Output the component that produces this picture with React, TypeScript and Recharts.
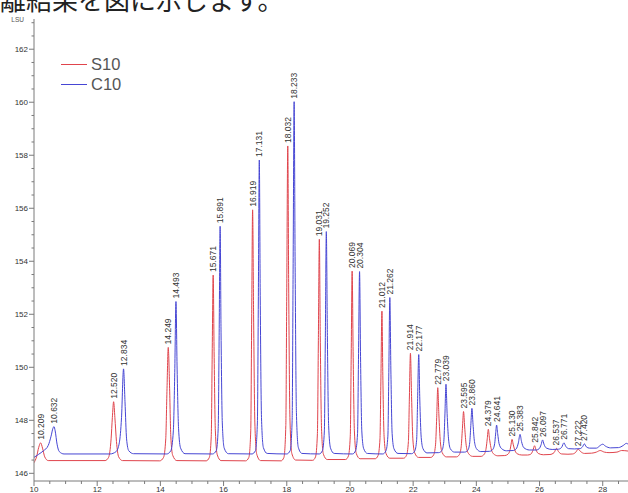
import { ComposedChart, Line, Scatter, XAxis, YAxis, Legend } from "recharts";

// retention time (min) / signal (LSU)
const s10Trace: [number, number][] = [
  [10.0, 146.4], [10.08, 146.62], [10.15, 146.98], [10.209, 147.15], [10.27, 146.95], [10.34, 146.62], [10.45, 146.48],
  [12.25, 146.48], [12.36, 146.6], [12.44, 147.3], [12.48, 148.1], [12.52, 148.7], [12.56, 148.1], [12.61, 147.2], [12.68, 146.62], [12.8, 146.48],
  [13.98, 146.47], [14.1, 146.6], [14.17, 147.3], [14.21, 149.2], [14.249, 150.75], [14.29, 149.3], [14.33, 147.4], [14.39, 146.68], [14.52, 146.48],
  [15.45, 146.47], [15.55, 146.6], [15.61, 147.4], [15.64, 150.5], [15.671, 153.48], [15.7, 150.6], [15.74, 147.6], [15.8, 146.7], [15.92, 146.48],
  [16.7, 146.47], [16.8, 146.6], [16.86, 147.6], [16.89, 151.9], [16.919, 155.94], [16.95, 152.0], [16.99, 147.9], [17.05, 146.72], [17.17, 146.48],
  [17.82, 146.47], [17.91, 146.6], [17.97, 147.8], [18.0, 153.0], [18.032, 158.35], [18.06, 153.2], [18.1, 148.1], [18.16, 146.75], [18.28, 146.5],
  [18.82, 146.49], [18.91, 146.62], [18.97, 147.5], [19.0, 151.0], [19.031, 154.83], [19.06, 151.2], [19.1, 147.7], [19.16, 146.72], [19.28, 146.52],
  [19.86, 146.52], [19.95, 146.65], [20.01, 147.4], [20.04, 150.5], [20.069, 153.63], [20.1, 150.6], [20.14, 147.6], [20.2, 146.75], [20.32, 146.55],
  [20.8, 146.55], [20.89, 146.67], [20.95, 147.3], [20.98, 149.6], [21.012, 152.12], [21.04, 149.7], [21.08, 147.4], [21.14, 146.75], [21.26, 146.57],
  [21.7, 146.57], [21.79, 146.68], [21.85, 147.2], [21.88, 148.8], [21.914, 150.53], [21.95, 148.9], [21.99, 147.3], [22.05, 146.77], [22.17, 146.6],
  [22.56, 146.6], [22.65, 146.7], [22.71, 147.1], [22.745, 148.1], [22.779, 149.23], [22.815, 148.2], [22.86, 147.2], [22.92, 146.78], [23.05, 146.62],
  [23.37, 146.62], [23.46, 146.7], [23.52, 147.0], [23.56, 147.7], [23.595, 148.33], [23.63, 147.75], [23.68, 147.05], [23.75, 146.75], [23.88, 146.64],
  [24.15, 146.64], [24.25, 146.72], [24.31, 146.95], [24.345, 147.3], [24.379, 147.66], [24.415, 147.32], [24.46, 146.98], [24.54, 146.74], [24.68, 146.66],
  [24.9, 146.67], [25.0, 146.72], [25.07, 146.9], [25.1, 147.1], [25.13, 147.28], [25.165, 147.1], [25.21, 146.9], [25.29, 146.74], [25.44, 146.69],
  [25.62, 146.69], [25.72, 146.72], [25.79, 146.86], [25.842, 147.04], [25.89, 146.88], [25.96, 146.75], [26.12, 146.7],
  [26.33, 146.71], [26.46, 146.78], [26.537, 146.94], [26.6, 146.82], [26.7, 146.73], [26.9, 146.72],
  [27.05, 146.73], [27.15, 146.8], [27.222, 146.91], [27.3, 146.82], [27.42, 146.75], [27.65, 146.76], [27.8, 146.8], [27.92, 146.86],
  [28.05, 146.8], [28.2, 146.78], [28.45, 146.8], [28.6, 146.86], [28.8, 146.84],
];

const c10Trace: [number, number][] = [
  [10.0, 146.6], [10.15, 146.72], [10.3, 146.85], [10.45, 147.05], [10.54, 147.4], [10.6, 147.7], [10.632, 147.76], [10.67, 147.6], [10.73, 147.1], [10.8, 146.82], [10.95, 146.73],
  [12.4, 146.73], [12.6, 146.82], [12.7, 147.15], [12.77, 148.1], [12.834, 149.94], [12.88, 148.7], [12.93, 147.3], [13.0, 146.85], [13.15, 146.74],
  [14.2, 146.73], [14.33, 146.85], [14.41, 147.6], [14.455, 149.8], [14.493, 152.48], [14.53, 149.9], [14.575, 147.7], [14.64, 146.95], [14.78, 146.74],
  [15.65, 146.73], [15.77, 146.86], [15.83, 147.7], [15.86, 151.2], [15.891, 155.32], [15.92, 151.3], [15.96, 147.9], [16.02, 146.95], [16.15, 146.74],
  [16.9, 146.73], [17.01, 146.86], [17.07, 147.9], [17.1, 152.5], [17.131, 157.82], [17.16, 152.7], [17.2, 148.1], [17.26, 146.97], [17.38, 146.75],
  [18.0, 146.73], [18.11, 146.86], [18.17, 148.0], [18.2, 153.5], [18.233, 160.02], [18.265, 153.8], [18.305, 148.3], [18.365, 146.98], [18.48, 146.75],
  [19.03, 146.73], [19.13, 146.86], [19.19, 147.6], [19.22, 151.0], [19.252, 155.12], [19.285, 151.2], [19.325, 147.8], [19.385, 146.95], [19.5, 146.75],
  [20.08, 146.73], [20.18, 146.86], [20.24, 147.5], [20.27, 150.3], [20.304, 153.61], [20.335, 150.4], [20.375, 147.6], [20.435, 146.93], [20.55, 146.75],
  [21.04, 146.73], [21.14, 146.85], [21.2, 147.4], [21.23, 149.8], [21.262, 152.63], [21.295, 149.9], [21.335, 147.5], [21.395, 146.92], [21.52, 146.75],
  [21.95, 146.74], [22.05, 146.84], [22.11, 147.25], [22.14, 148.7], [22.177, 150.48], [22.21, 148.8], [22.255, 147.35], [22.315, 146.92], [22.44, 146.77],
  [22.81, 146.78], [22.91, 146.86], [22.97, 147.2], [23.005, 148.2], [23.039, 149.36], [23.075, 148.25], [23.12, 147.3], [23.18, 146.92], [23.31, 146.8],
  [23.63, 146.8], [23.73, 146.87], [23.79, 147.15], [23.825, 147.8], [23.86, 148.45], [23.895, 147.85], [23.94, 147.2], [24.01, 146.92], [24.14, 146.82],
  [24.42, 146.83], [24.52, 146.9], [24.58, 147.12], [24.61, 147.48], [24.641, 147.82], [24.675, 147.5], [24.72, 147.12], [24.8, 146.93], [24.95, 146.85],
  [25.16, 146.86], [25.26, 146.92], [25.33, 147.15], [25.383, 147.47], [25.43, 147.2], [25.5, 146.97], [25.68, 146.88],
  [25.9, 146.88], [25.99, 146.93], [26.05, 147.08], [26.097, 147.26], [26.14, 147.1], [26.22, 146.95], [26.4, 146.9],
  [26.6, 146.91], [26.7, 146.98], [26.771, 147.15], [26.83, 147.02], [26.92, 146.93], [27.1, 146.92],
  [27.28, 146.93], [27.36, 147.0], [27.42, 147.11], [27.48, 147.0], [27.58, 146.95], [27.8, 146.95], [27.92, 147.05], [28.0, 147.1],
  [28.08, 147.03], [28.25, 146.96], [28.5, 146.97], [28.65, 147.05], [28.75, 147.13], [28.8, 147.1],
];

// labelled peaks: retention time and apex height
const s10PeakTimes = [10.209, 12.52, 14.249, 15.671, 16.919, 18.032, 19.031, 20.069, 21.012, 21.914, 22.779, 23.595, 24.379, 25.13, 25.842, 26.537, 27.222];
const s10PeakHeights = [147.15, 148.7, 150.75, 153.48, 155.94, 158.35, 154.83, 153.63, 152.12, 150.53, 149.23, 148.33, 147.66, 147.28, 147.04, 146.94, 146.91];
const c10PeakTimes = [10.632, 12.834, 14.493, 15.891, 17.131, 18.233, 19.252, 20.304, 21.262, 22.177, 23.039, 23.86, 24.641, 25.383, 26.097, 26.771, 27.42];
const c10PeakHeights = [147.76, 149.94, 152.48, 155.32, 157.82, 160.02, 155.12, 153.61, 152.63, 150.48, 149.36, 148.45, 147.82, 147.47, 147.26, 147.15, 147.11];

const xTicks = [10, 10.5, 11, 11.5, 12, 12.5, 13, 13.5, 14, 14.5, 15, 15.5, 16, 16.5, 17, 17.5, 18, 18.5, 19, 19.5, 20, 20.5, 21, 21.5, 22, 22.5, 23, 23.5, 24, 24.5, 25, 25.5, 26, 26.5, 27, 27.5, 28, 28.5];
const yTicks = [146, 146.5, 147, 147.5, 148, 148.5, 149, 149.5, 150, 150.5, 151, 151.5, 152, 152.5, 153, 153.5, 154, 154.5, 155, 155.5, 156, 156.5, 157, 157.5, 158, 158.5, 159, 159.5, 160, 160.5, 161, 161.5, 162, 162.5, 163];

const RED = "#e0444c";
const BLUE = "#4646d4";
const AXIS = "#7a7a7a";
const FONT = "'Liberation Sans', Arial, sans-serif";

const toPoints = (trace: [number, number][]) => trace.map(([t, v]) => ({ t, v }));
const toPeaks = (times: number[], heights: number[]) =>
  times.map((t, i) => ({ t, v: heights[i], label: t.toFixed(3) }));

const s10Data = toPoints(s10Trace);
const c10Data = toPoints(c10Trace);
const s10Peaks = toPeaks(s10PeakTimes, s10PeakHeights);
const c10Peaks = toPeaks(c10PeakTimes, c10PeakHeights);

const PeakLabel = (props: any) => {
  const { cx, cy, payload } = props;
  if (cx == null || cy == null) return <g />;
  const y = cy - 3;
  return (
    <text
      x={cx}
      y={y}
      transform={`rotate(-90 ${cx} ${y})`}
      fontSize={8.5}
      fontFamily={FONT}
      fill="#333"
      textAnchor="start"
      dominantBaseline="central"
    >
      {payload.label}
    </text>
  );
};

const XTick = (props: any) => {
  const { x, y, payload } = props;
  const major = payload.value % 2 === 0;
  const axisY = y - 6;
  return (
    <g>
      <line x1={x} y1={axisY} x2={x} y2={axisY + (major ? 5 : 3)} stroke={AXIS} />
      {major && (
        <text x={x} y={axisY + 11} fontSize={8} fontFamily={FONT} fill="#333" textAnchor="middle">
          {payload.value}
        </text>
      )}
    </g>
  );
};

const YTick = (props: any) => {
  const { x, y, payload } = props;
  const major = payload.value % 2 === 0;
  const axisX = x + 6;
  return (
    <g>
      <line x1={axisX - (major ? 5 : 2.5)} y1={y} x2={axisX} y2={y} stroke={AXIS} />
      {major && (
        <text x={axisX - 6} y={y} dy={3} fontSize={8} fontFamily={FONT} fill="#333" textAnchor="end">
          {payload.value}
        </text>
      )}
    </g>
  );
};

const LegendBox = () => (
  <div style={{ fontFamily: FONT, fontSize: 16.5, color: "#555" }}>
    {[
      { name: "S10", color: RED },
      { name: "C10", color: BLUE },
    ].map((item) => (
      <div key={item.name} style={{ display: "flex", alignItems: "center", height: 20 }}>
        <div style={{ width: 26, height: 1.5, background: item.color }} />
        <span style={{ marginLeft: 4 }}>{item.name}</span>
      </div>
    ))}
  </div>
);

export default function App() {
  return (
    <div style={{ position: "absolute", left: 0, top: 0, width: 628, height: 493, background: "#fff" }}>
      <ComposedChart width={628} height={493} margin={{ top: 19, right: 0, bottom: 0, left: 0 }}>
        <XAxis
          dataKey="t"
          type="number"
          domain={[10, 28.8]}
          allowDataOverflow
          ticks={xTicks}
          interval={0}
          height={12}
          stroke={AXIS}
          tickLine={false}
          tickSize={5}
          tickMargin={1}
          tick={<XTick />}
        />
        <YAxis
          type="number"
          domain={[145.71, 163.14]}
          allowDataOverflow
          ticks={yTicks}
          interval={0}
          width={34}
          stroke={AXIS}
          tickLine={false}
          tickSize={4}
          tickMargin={2}
          tick={<YTick />}
        />
        {/* centre/middle alignment so the legend does not eat into the plot area */}
        <Legend
          verticalAlign="middle"
          align="center"
          layout="vertical"
          wrapperStyle={{ left: 61, top: 54.5, width: "auto" }}
          content={<LegendBox />}
        />
        <Line
          data={s10Data}
          dataKey="v"
          type="monotone"
          stroke={RED}
          strokeWidth={1}
          dot={false}
          isAnimationActive={false}
        />
        <Line
          data={c10Data}
          dataKey="v"
          type="monotone"
          stroke={BLUE}
          strokeWidth={1}
          dot={false}
          isAnimationActive={false}
        />
        <Scatter data={s10Peaks} dataKey="v" shape={<PeakLabel />} isAnimationActive={false} legendType="none" />
        <Scatter data={c10Peaks} dataKey="v" shape={<PeakLabel />} isAnimationActive={false} legendType="none" />
      </ComposedChart>
      <svg width={628} height={30} style={{ position: "absolute", left: 0, top: 0, pointerEvents: "none" }}>
        <text x={0} y={10} fontSize={26} fontFamily="'Noto Sans CJK JP', sans-serif" fill="#222">
          離結果を図に示します。
        </text>
        <text x={24} y={22} fontSize={6.5} fontFamily={FONT} fill="#555" textAnchor="end">
          LSU
        </text>
      </svg>
    </div>
  );
}
